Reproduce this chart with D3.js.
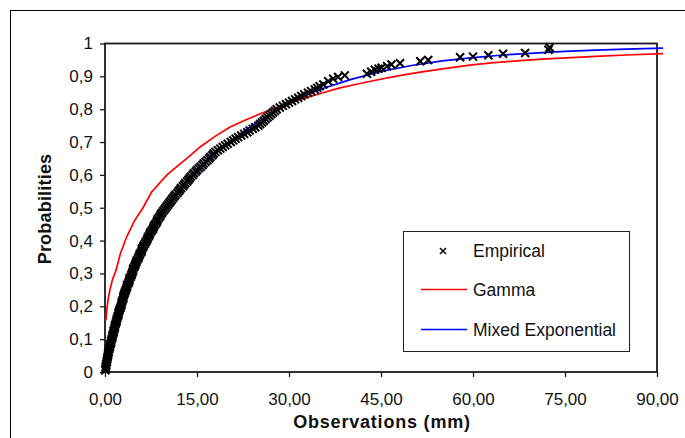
<!DOCTYPE html>
<html lang="en">
<head>
<meta charset="UTF-8"/>
<title>Empirical vs fitted distributions</title>
<script src="https://d3js.org/d3.v7.min.js"></script>
<style>
    body { margin: 0; background: white; }
    text { font-family: Arial, "Liberation Sans", sans-serif; fill: #111; }
</style>
</head>
<body>
<script>
    var empX = [0.05, 0.1, 0.1, 0.2, 0.2, 0.3, 0.3, 0.4, 0.4, 0.5,
                0.5, 0.6, 0.6, 0.7, 0.8, 0.8, 0.9, 1.0, 1.0, 1.1,
                1.2, 1.2, 1.3, 1.4, 1.4, 1.5, 1.6, 1.6, 1.7, 1.8,
                1.9, 1.9, 2.0, 2.1, 2.2, 2.2, 2.3, 2.4, 2.5, 2.6,
                2.7, 2.7, 2.8, 2.9, 3.0, 3.0, 3.1, 3.2, 3.3, 3.4,
                3.5, 3.6, 3.6, 3.8, 3.9, 4.0, 4.0, 4.2, 4.3, 4.4,
                4.5, 4.6, 4.6, 4.8, 4.9, 5.0, 5.1, 5.2, 5.4, 5.5,
                5.6, 5.7, 5.9, 6.0, 6.0, 6.2, 6.3, 6.5, 6.6, 6.8,
                6.9, 7.0, 7.2, 7.3, 7.4, 7.6, 7.8, 7.9, 8.0, 8.2,
                8.4, 8.5, 8.6, 8.8, 9.0, 9.1, 9.3, 9.5, 9.7, 9.9,
                10.1, 10.3, 10.5, 10.7, 10.9, 11.1, 11.3, 11.5, 11.8, 12.0,
                12.2, 12.4, 12.7, 12.9, 13.1, 13.4, 13.6, 13.8, 14.0, 14.3,
                14.5, 14.8, 15.0, 15.3, 15.6, 15.9, 16.1, 16.4, 16.7, 17.0,
                17.2, 17.5, 17.7, 18.0, 18.4, 18.8, 19.2, 19.6, 20.0, 20.5,
                20.9, 21.3, 21.7, 22.2, 22.7, 23.2, 23.6, 24.1, 24.5, 25.0,
                25.3, 25.6, 25.9, 26.2, 26.5, 26.8, 27.1, 27.4, 27.7, 28.0,
                28.5, 29.0, 29.5, 30.0, 30.5, 31.0, 31.5, 32.0, 32.5, 33.1,
                33.6, 34.2, 34.6, 35.0, 35.6,
                36.4, 37.2, 38.0, 39.1, 42.7, 43.4, 44.0, 44.6, 45.1, 46.0,
                46.7, 48.1, 51.4, 52.7, 57.9, 60.0, 62.5, 64.9, 68.5, 72.3, 72.5];
    var empP = [0.005, 0.010, 0.015, 0.020, 0.025, 0.030, 0.035, 0.040, 0.045, 0.050,
                0.055, 0.060, 0.065, 0.070, 0.075, 0.080, 0.085, 0.090, 0.095, 0.100,
                0.105, 0.110, 0.115, 0.120, 0.125, 0.130, 0.135, 0.140, 0.145, 0.150,
                0.155, 0.160, 0.165, 0.170, 0.175, 0.180, 0.185, 0.190, 0.195, 0.200,
                0.205, 0.210, 0.215, 0.220, 0.225, 0.230, 0.235, 0.240, 0.245, 0.250,
                0.255, 0.260, 0.265, 0.270, 0.275, 0.280, 0.285, 0.290, 0.295, 0.300,
                0.305, 0.310, 0.315, 0.320, 0.325, 0.330, 0.335, 0.340, 0.345, 0.350,
                0.355, 0.360, 0.365, 0.370, 0.375, 0.380, 0.385, 0.390, 0.395, 0.400,
                0.405, 0.410, 0.415, 0.420, 0.425, 0.430, 0.435, 0.440, 0.445, 0.450,
                0.455, 0.460, 0.465, 0.470, 0.475, 0.480, 0.485, 0.490, 0.495, 0.500,
                0.505, 0.510, 0.515, 0.520, 0.525, 0.530, 0.535, 0.540, 0.545, 0.550,
                0.555, 0.560, 0.565, 0.570, 0.575, 0.580, 0.585, 0.590, 0.595, 0.600,
                0.605, 0.610, 0.615, 0.620, 0.625, 0.630, 0.635, 0.640, 0.645, 0.650,
                0.655, 0.660, 0.665, 0.670, 0.675, 0.680, 0.685, 0.690, 0.695, 0.700,
                0.705, 0.710, 0.715, 0.720, 0.725, 0.730, 0.735, 0.740, 0.745, 0.750,
                0.755, 0.760, 0.765, 0.770, 0.775, 0.780, 0.785, 0.790, 0.795, 0.800,
                0.805, 0.810, 0.815, 0.820, 0.825, 0.830, 0.835, 0.840, 0.845, 0.850,
                0.855, 0.860, 0.865, 0.870, 0.875,
                0.885, 0.893, 0.898, 0.903, 0.908, 0.914, 0.920, 0.923, 0.926, 0.931,
                0.936, 0.940, 0.946, 0.950, 0.958, 0.960, 0.964, 0.969, 0.971, 0.981, 0.988];

    // Gamma curve
    var gammaX = [0.15, 0.3, 0.5, 0.8, 1.2, 1.8, 2.5, 3.5, 4.8, 6.2,
                  7.6, 10.1, 12.0, 13.6, 15.5, 18.0, 20.4, 23.0, 25.3, 28.0,
                  31.3, 35.0, 38.3, 41.0, 44.3, 48.0, 51.4, 55.0, 59.5, 63.0,
                  67.7, 72.0, 76.0, 80.0, 85.0, 91.0];
    var gammaP = [0.158, 0.19, 0.22, 0.25, 0.28, 0.31, 0.36, 0.41, 0.46, 0.50,
                  0.548, 0.60, 0.63, 0.654, 0.685, 0.718, 0.746, 0.768, 0.786, 0.805,
                  0.827, 0.847, 0.865, 0.876, 0.889, 0.902, 0.913, 0.923, 0.934, 0.941,
                  0.948, 0.953, 0.957, 0.961, 0.965, 0.969];

    // Mixed exponential curve
    var mixX = [0, 1, 2.5, 4.5, 7, 10, 14, 18, 22, 26, 30, 35, 40, 45,
                50, 55, 60, 65, 70, 75, 80, 85, 91];
    var mixP = [0, 0.09, 0.2, 0.31, 0.41, 0.5, 0.59, 0.665, 0.725, 0.775, 0.82, 0.86, 0.89, 0.915,
                0.933, 0.947, 0.957, 0.965, 0.971, 0.976, 0.98, 0.983, 0.986];

    var xTicks = [0, 15, 30, 45, 60, 75, 90];
    var yTicks = [0, 0.1, 0.2, 0.3, 0.4, 0.5, 0.6, 0.7, 0.8, 0.9, 1];

    var W = 685, H = 438;
    var margin = { top: 43.5, right: 28, bottom: 66, left: 105 };
    var w = W - margin.left - margin.right;
    var h = H - margin.top - margin.bottom;

    var svg = d3.select("body")
                .append("svg")
                .attr("width", W)
                .attr("height", H);

    // outer frame (runs off the right and bottom edges)
    svg.append("rect")
       .attr("x", 10.5).attr("y", 10.5)
       .attr("width", W).attr("height", H)
       .attr("fill", "none")
       .attr("stroke", "#000")
       .attr("stroke-width", 1);

    var g = svg.append("g")
               .attr("transform", "translate(" + margin.left + "," + margin.top + ")");

    var xScale = d3.scaleLinear().domain([0, 90]).range([0, w]);
    var yScale = d3.scaleLinear().domain([0, 1]).range([h, 0]);

    var fmtX = function(d) { return d3.format(".2f")(d).replace(".", ","); };
    var fmtY = function(d) { return d === 0 || d === 1 ? String(d) : String(d).replace(".", ","); };

    // plot frame
    g.append("rect")
     .attr("width", w).attr("height", h)
     .attr("fill", "none")
     .attr("stroke", "#1a1a1a")
     .attr("stroke-width", 1.8);

    var xAxis = g.append("g")
                 .attr("transform", "translate(0," + h + ")")
                 .call(d3.axisBottom(xScale).tickValues(xTicks).tickFormat(fmtX).tickSize(5).tickPadding(16));
    var yAxis = g.append("g")
                 .call(d3.axisLeft(yScale).tickValues(yTicks).tickFormat(fmtY).tickSize(5).tickPadding(7));

    [xAxis, yAxis].forEach(function(a) {
        a.select(".domain").remove();
        a.selectAll("line").attr("stroke", "#1a1a1a").attr("stroke-width", 1.3);
        a.selectAll("text")
         .attr("font-family", "Arial, 'Liberation Sans', sans-serif")
         .attr("font-size", 17)
         .attr("fill", "#111");
    });

    // axis titles
    svg.append("text")
       .attr("x", 382).attr("y", 428)
       .attr("text-anchor", "middle")
       .attr("font-size", 18)
       .attr("font-weight", "bold")
       .attr("letter-spacing", 0.8)
       .text("Observations (mm)");

    svg.append("text")
       .attr("transform", "translate(51,209) rotate(-90)")
       .attr("text-anchor", "middle")
       .attr("font-size", 18)
       .attr("font-weight", "bold")
       .attr("letter-spacing", 0.2)
       .text("Probabilities");

    var line = d3.line()
                 .x(function(d) { return xScale(d[0]); })
                 .y(function(d) { return yScale(d[1]); });

    g.append("path")
     .datum(d3.zip(gammaX, gammaP))
     .attr("d", line)
     .attr("fill", "none")
     .attr("stroke", "#ff0000")
     .attr("stroke-width", 1.7);

    g.append("path")
     .datum(d3.zip(mixX, mixP))
     .attr("d", line)
     .attr("fill", "none")
     .attr("stroke", "#0000ff")
     .attr("stroke-width", 1.7);

    // cross markers
    var s = 4;
    g.selectAll("path.emp")
     .data(d3.zip(empX, empP))
     .enter()
     .append("path")
     .attr("class", "emp")
     .attr("transform", function(d) {
         return "translate(" + xScale(d[0]) + "," + yScale(d[1]) + ")";
     })
     .attr("d", "M" + (-s) + "," + (-s) + "L" + s + "," + s + "M" + (-s) + "," + s + "L" + s + "," + (-s))
     .attr("stroke", "#000")
     .attr("stroke-width", 2)
     .attr("fill", "none");

    // legend
    var lg = svg.append("g");
    lg.append("rect")
      .attr("x", 403.5).attr("y", 231.5)
      .attr("width", 226).attr("height", 120)
      .attr("fill", "white")
      .attr("stroke", "#222")
      .attr("stroke-width", 1);

    var m = 3;
    lg.append("path")
      .attr("transform", "translate(443,251)")
      .attr("d", "M" + (-m) + "," + (-m) + "L" + m + "," + m + "M" + (-m) + "," + m + "L" + m + "," + (-m))
      .attr("stroke", "#000")
      .attr("stroke-width", 1.5);
    lg.append("text").attr("x", 473).attr("y", 257).attr("font-size", 17.5).text("Empirical");

    lg.append("line")
      .attr("x1", 421).attr("x2", 467).attr("y1", 289.5).attr("y2", 289.5)
      .attr("stroke", "#ff0000").attr("stroke-width", 1.3);
    lg.append("text").attr("x", 473).attr("y", 296).attr("font-size", 17.5).text("Gamma");

    lg.append("line")
      .attr("x1", 421).attr("x2", 467).attr("y1", 329.5).attr("y2", 329.5)
      .attr("stroke", "#0000ff").attr("stroke-width", 1.3);
    lg.append("text").attr("x", 473).attr("y", 336).attr("font-size", 17.5).text("Mixed Exponential");
</script>
</body>
</html>
